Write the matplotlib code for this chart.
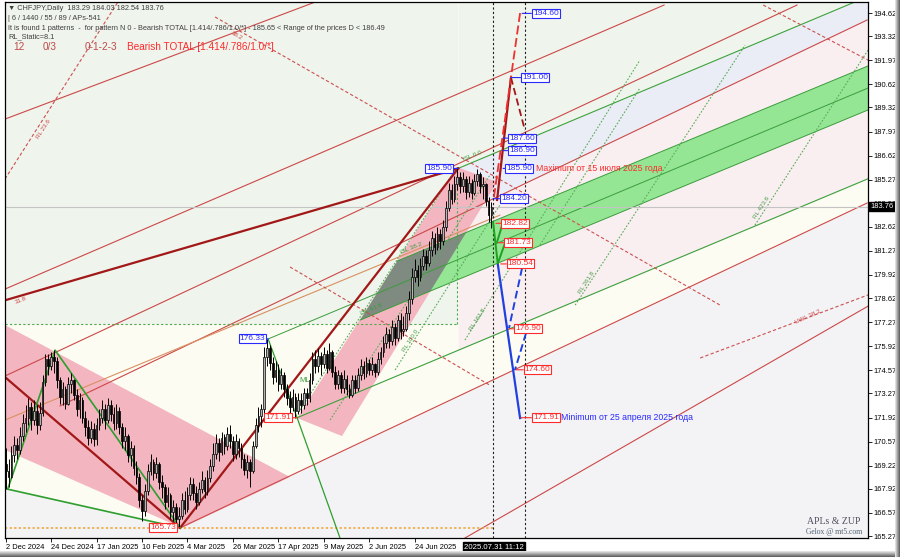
import numpy as np
import matplotlib.pyplot as plt
from matplotlib.patches import Polygon

plt.rcParams['font.family'] = ['Liberation Sans Narrow', 'Liberation Sans', 'DejaVu Sans']

# CHFJPY daily bars, 2 Dec 2024 .. 31 Jul 2025
first_open = 169.3
closes = [168.9, 168.6, 169.8, 170.4, 170.1, 170.9, 171.6, 171.9, 172.5, 171.8,
          172.3, 171.5, 172.2, 173.9, 175.2, 174.8, 175.3, 175.1, 174.0, 173.1,
          173.5, 172.7, 173.8, 174.0, 173.2, 172.4, 172.9, 171.9, 171.4, 170.8,
          171.3, 170.7, 171.5, 171.9, 172.4, 171.8, 172.6, 172.1, 171.6, 172.3,
          171.4, 170.6, 170.9, 169.8, 170.2, 169.1, 168.6, 167.3, 166.7, 167.8,
          168.9, 169.4, 168.8, 169.3, 168.3, 168.0, 167.2, 167.6, 166.6, 166.9,
          166.2, 166.4, 167.3, 166.8, 167.6, 168.2, 167.7, 167.2, 167.9, 168.4,
          167.8, 168.5, 169.2, 169.9, 170.5, 170.0, 170.8, 170.3, 171.0, 170.6,
          169.9, 170.6, 170.2, 169.6, 169.0, 169.4, 168.9, 170.3, 171.5, 172.0,
          172.4, 175.3, 175.8, 175.0, 174.2, 174.6, 173.8, 174.3, 173.5, 173.0,
          172.5, 173.1, 172.3, 172.9, 172.6, 173.3, 173.0, 174.0, 175.2, 174.8,
          175.4, 174.9, 175.5, 174.7, 175.6, 174.5, 173.8, 174.3, 173.6, 174.1,
          173.5, 173.2, 174.0, 173.6, 174.3, 174.8, 174.4, 175.0, 174.6, 174.9,
          174.5, 175.2, 175.6, 176.1, 176.6, 176.2, 177.0, 176.4, 177.4, 176.8,
          176.9, 177.8, 178.6, 179.8, 180.2, 179.8, 180.4, 181.0, 180.6, 181.3,
          182.0, 181.5, 182.2, 181.8, 182.6, 183.7, 184.7, 184.2, 185.0, 185.4,
          184.9, 185.3, 184.6, 185.1, 184.5, 185.2, 185.6, 184.9, 185.0, 184.1,
          183.29, 183.76]
highs = [170.2, 169.6, 170.3, 170.9, 170.8, 171.4, 172.1, 172.6, 173.0, 172.8,
         172.9, 172.6, 172.8, 174.3, 175.5, 175.5, 175.6, 175.7, 175.3, 174.2,
         173.9, 173.7, 174.2, 174.4, 174.1, 173.5, 173.3, 173.1, 172.3, 171.8,
         171.7, 171.6, 171.9, 172.4, 172.9, 172.7, 173.0, 172.9, 172.5, 172.7,
         172.5, 171.6, 171.4, 171.0, 170.6, 170.4, 169.5, 168.8, 167.6, 168.2,
         169.3, 169.9, 169.6, 169.7, 169.4, 168.7, 168.2, 168.0, 167.7, 167.3,
         167.1, 166.9, 167.7, 167.8, 168.0, 168.6, 168.5, 168.1, 168.3, 168.9,
         168.6, 169.0, 169.6, 170.5, 171.0, 170.8, 171.1, 171.0, 171.4, 171.5,
         170.9, 171.0, 170.8, 170.5, 169.9, 169.8, 169.6, 170.6, 171.9, 172.5,
         172.7, 175.9, 176.33, 176.0, 175.3, 175.1, 174.9, 174.7, 174.5, 173.8,
         173.4, 173.5, 173.3, 173.3, 173.3, 173.6, 173.6, 174.4, 175.6, 175.7,
         175.8, 175.6, 175.9, 175.7, 176.1, 175.7, 174.8, 174.6, 174.5, 174.6,
         174.3, 173.8, 174.3, 174.3, 174.7, 175.2, 175.1, 175.3, 175.2, 175.3,
         175.0, 175.6, 175.9, 176.5, 177.0, 176.9, 177.4, 177.2, 177.7, 177.8,
         177.6, 178.2, 179.0, 180.3, 180.8, 180.5, 180.9, 181.4, 181.3, 181.8,
         182.4, 182.3, 182.6, 182.5, 183.0, 184.1, 185.1, 185.0, 185.5, 185.90,
         185.7, 185.7, 185.5, 185.5, 185.3, 185.6, 185.85, 185.7, 185.4, 185.1,
         184.3, 184.03]
lows = [167.9, 168.0, 168.5, 169.4, 169.6, 169.9, 170.6, 171.1, 171.5, 171.2,
        171.5, 171.0, 171.2, 172.0, 173.7, 174.3, 174.6, 174.4, 173.6, 172.7,
        172.6, 172.4, 172.6, 173.3, 172.9, 172.0, 171.9, 171.6, 170.9, 170.4,
        170.5, 170.3, 170.4, 171.2, 171.6, 171.3, 171.6, 171.7, 171.2, 171.3,
        171.0, 170.2, 170.1, 169.4, 169.2, 168.7, 168.2, 166.9, 166.1, 166.4,
        167.6, 168.7, 168.4, 168.5, 167.9, 167.4, 166.8, 166.9, 166.2, 166.1,
        165.9, 165.73, 166.2, 166.5, 166.6, 167.3, 167.3, 166.8, 167.0, 167.7,
        167.4, 167.6, 168.3, 168.9, 169.6, 169.5, 169.8, 169.9, 170.1, 170.2,
        169.5, 169.6, 169.7, 169.1, 168.7, 168.5, 168.0, 168.8, 170.2, 171.1,
        171.4, 172.1, 174.8, 174.6, 173.8, 173.9, 173.4, 173.5, 173.1, 172.6,
        172.1, 172.3, 171.91, 172.1, 172.2, 172.4, 172.6, 172.8, 173.8, 174.4,
        174.5, 174.3, 174.7, 174.4, 174.6, 174.2, 173.5, 173.5, 173.3, 173.3,
        173.2, 173.0, 173.1, 173.3, 173.4, 174.0, 174.1, 174.2, 174.3, 174.3,
        174.2, 174.3, 174.9, 175.3, 175.8, 175.8, 176.0, 176.0, 176.2, 176.3,
        176.5, 176.8, 177.4, 178.3, 179.5, 179.3, 179.6, 180.2, 180.2, 180.4,
        181.0, 181.1, 181.3, 181.4, 181.6, 182.4, 183.5, 183.9, 184.0, 184.7,
        184.5, 184.6, 184.2, 184.3, 184.2, 184.4, 184.9, 184.5, 184.2, 183.8,
        182.9, 182.54]

date_labels = ["2 Dec 2024", "24 Dec 2024", "17 Jan 2025", "10 Feb 2025", "4 Mar 2025",
               "26 Mar 2025", "17 Apr 2025", "9 May 2025", "2 Jun 2025", "24 Jun 2025"]
date_bars = [0, 16, 32, 48, 64, 80, 96, 112, 128, 144]
price_ticks = [194.62, 193.32, 191.97, 190.62, 189.32, 187.97, 186.62, 185.27, 183.92,
               182.62, 181.27, 179.92, 178.62, 177.27, 175.92, 174.57, 173.27, 171.92,
               170.57, 169.22, 167.92, 166.57, 165.27]
last_price = 183.76

# pattern pivots (bar index, price)
piv_dec_low = (0.7, 167.90)
piv_dec_high = (17.4, 175.70)
piv_low = (61.4, 165.73)
piv_176 = (92.4, 176.33)
piv_171 = (102.6, 171.91)
piv_top = (159.3, 185.90)

# drawn objects (bar index, price)
line3 = [piv_top, (303.6, 195.55)]
line_mid = [piv_176, (303.6, 190.41)]
line_171 = [piv_171, (303.6, 185.32)]
red_c = [(19.1, 172.57), (303.3, 194.23)]
red_d = [piv_low, (303.3, 183.96)]
red_e = [(161.7, 165.16), (303.6, 178.17)]
red_1 = [(-0.25, 174.25), (278.6, 195.07)]
red_a = [(-0.25, 179.13), (231.8, 195.07)]
red_top = [(-0.25, 188.67), (109.0, 195.24)]
orange_1 = [(-0.25, 171.78), (174.0, 183.28)]
zig_bottom = [piv_dec_low, piv_low]
dark_red = [[(-0.25, 178.5), piv_top], [piv_low, piv_top], [(-0.25, 174.19), piv_low]]
red_dashed = [[(73.7, 194.40), (251.5, 178.23)], [(266.7, 195.07), (303.6, 191.98)],
              [(100.1, 180.37), (170.5, 173.73)], [(244.5, 175.26), (303.6, 178.80)],
              [(-0.25, 185.31), (39.5, 195.24)]]
green_dotted = [[(137.1, 174.59), (174.0, 183.85)], [(161.7, 176.27), (223.3, 191.98)],
                [(200.5, 178.23), (260.3, 192.82)], [(263.8, 182.72), (303.6, 192.54)],
                [(188.1, 181.60), (223.3, 190.41)], [(103.6, 172.34), (158.2, 185.81)],
                [(114.2, 171.78), (170.5, 185.53)]]
gband_up = [(137.8, 180.70), (303.6, 191.65)]
gband_lo = [(124.8, 177.39), (303.6, 189.18)]
pink_desc = [(-0.25, 177.11), (100.1, 168.58), (62.1, 165.72), (-0.25, 170.10)]
pink_asc = [(102.6, 171.89), (158.9, 185.98), (173.0, 185.14), (118.4, 170.88)]
box_level = 177.17
v_lines = [171.7, 182.8]

# forecast paths
up_solid = [(173.0, 184.13), (177.9, 191.00)]
up_red = [(171.9, 184.29), (181.1, 194.62)]
up_dash = [(177.9, 191.00), (182.8, 188.05)]
green_path = [[(171.6, 182.89), (173.3, 180.48)], [(174.8, 182.72), (173.0, 181.77)],
              [(175.8, 181.71), (173.3, 180.59)]]
blue_solid = [(173.3, 180.48), (181.1, 171.89)]
blue_dash = [[(181.8, 180.31), (177.2, 176.94)], [(183.2, 176.66), (179.3, 174.59)]]

blue_tags = [194.60, 191.00, 187.60, 186.90, 185.90, 184.20]
blue_tag_anchor = [181.8, 177.9, 175.1, 175.1, 175.1, 171.6]
blue_tag_box = [185.6, 181.8, 177.2, 177.2, 176.2, 174.4]
red_tags = [182.82, 181.73, 180.54, 176.90, 174.60, 171.91]
red_tag_anchor = [172.6, 173.6, 174.3, 177.2, 179.7, 181.4]
red_tag_box = [174.8, 175.8, 176.7, 179.3, 182.7, 185.6]

BLUE = '#2a2aff'
RED = '#ff2a2a'


def y_on(seg, x):
    (x0, y0), (x1, y1) = seg
    return y0 + (y1 - y0) * (np.asarray(x) - x0) / (x1 - x0)


def seg_plot(seg, **kw):
    ax.plot([seg[0][0], seg[1][0]], [seg[0][1], seg[1][1]], **kw)


fig = plt.figure(figsize=(9, 5.57), dpi=100)
fig.patch.set_facecolor('white')
ax = fig.add_axes([5 / 900, 1 - 538 / 557, 863 / 900, 536 / 557])
ax.set_xlim(-0.25, 303.6)
ax.set_ylim(165.16, 195.24)
ax.set_facecolor('#fcfcf2')

# background zones
xr = np.array([piv_top[0], 303.6])
ax.fill_between(xr, y_on(line3, xr), 197, color='#eff5ed', lw=0, zorder=0)
ax.fill_between(xr, y_on(red_c, xr), y_on(line3, xr), color='#ebedf6', lw=0, zorder=0)
ax.fill_between(xr, y_on(line_171, xr), y_on(red_c, xr), color='#f9eff1', lw=0, zorder=0)
ax.fill_between([-0.25, piv_top[0]], box_level, 197, color='#eff4ed', lw=0, zorder=0)
xg = np.array([piv_low[0], 303.6])
ax.fill_between(xg, 164, y_on(red_d, xg), color='#f3f3f5', lw=0, zorder=0)
xb = np.array([-0.25, piv_low[0]])
ax.fill_between(xb, 164, y_on(zig_bottom, xb), color='#f3f3f3', lw=0, zorder=0)

# pink channels and green band
ax.add_patch(Polygon(pink_desc, closed=True, fc='#f3b6c0', lw=0, zorder=1))
pink2 = Polygon(pink_asc, closed=True, fc='#f3b6c0', lw=0, zorder=1)
ax.add_patch(pink2)
band_pts = [gband_lo[0], gband_up[0], gband_up[1], gband_lo[1]]
ax.add_patch(Polygon(band_pts, closed=True, fc='#94e694', lw=0, zorder=1.5))
over = Polygon(band_pts, closed=True, fc='#7f8b80', lw=0, zorder=1.6)
ax.add_patch(over)
over.set_clip_path(pink2)
for s in (gband_up, gband_lo, line_mid):
    seg_plot(s, color='#3c9c3c', lw=0.7, zorder=2)

# channel lines
for s in (line3, line_171):
    seg_plot(s, color='#3ca03c', lw=0.8, zorder=2)
for s in (red_c, red_d, red_e, red_1, red_a, red_top):
    seg_plot(s, color='#cc4848', lw=0.8, zorder=2)
seg_plot(orange_1, color='#d99060', lw=0.8, zorder=2)
for s in red_dashed:
    seg_plot(s, color='#cc5050', lw=0.8, ls=(0, (3, 2)), zorder=2)
for s in green_dotted:
    seg_plot(s, color='#5aac5a', lw=0.8, ls=(0, (1.5, 1.5)), zorder=2)
for s in dark_red:
    seg_plot(s, color='#a21818', lw=1.6, zorder=2.5)

# zigzag
zx = [piv_dec_low[0], piv_dec_high[0], piv_low[0]]
zy = [piv_dec_low[1], piv_dec_high[1], piv_low[1]]
ax.plot(zx, zy, color='#2e9e2e', lw=1.2, zorder=2.6)
seg_plot(zig_bottom, color='#2e9e2e', lw=1.2, zorder=2.6)
seg_plot([piv_176, piv_171], color='#2e9e2e', lw=0.9, zorder=2.6)
seg_plot([piv_171, (117.7, 165.16)], color='#2e9e2e', lw=0.9, zorder=2.6)

# guide lines
ax.plot([-0.25, piv_top[0]], [box_level, box_level], color='#4caa4c', lw=0.8, ls=(0, (2, 2)), zorder=2)
ax.plot([158.9, 158.9], [box_level, piv_top[1]], color='#4caa4c', lw=0.8, ls=(0, (2, 2)), zorder=2)
ax.plot([-0.25, v_lines[0]], [piv_low[1], piv_low[1]], color='#f0a030', lw=1.1, ls=(0, (1.5, 1.5)), zorder=2)
ax.axhline(last_price, color='#c4c4c4', lw=0.8, zorder=2)
for v in v_lines:
    ax.axvline(v, color='#202020', lw=0.8, ls=(0, (2, 2)), zorder=4)

# candles
opens = [first_open] + closes[:-1]
idx = np.arange(len(closes))
o = np.array(opens)
c = np.array(closes)
h = np.maximum(np.array(highs), np.maximum(o, c))
lo = np.minimum(np.array(lows), np.minimum(o, c))
ax.vlines(idx, lo, h, color='black', lw=0.7, zorder=3)
up = c >= o
ax.bar(idx[up], (c - o)[up], bottom=o[up], width=0.6, color='#b4b4b4', edgecolor='black', lw=0.5, zorder=3.1)
ax.bar(idx[~up], (o - c)[~up], bottom=c[~up], width=0.6, color='black', edgecolor='black', lw=0.5, zorder=3.1)

# forecast paths
seg_plot(up_solid, color='#a21818', lw=1.6, zorder=5)
seg_plot(up_red, color='#ee3030', lw=1.3, ls=(0, (5, 2)), zorder=5)
seg_plot(up_dash, color='#a21818', lw=1.3, ls=(0, (4, 2)), zorder=5)
for s in green_path:
    seg_plot(s, color='#20a020', lw=1.4, zorder=5)
seg_plot(blue_solid, color='#2040e0', lw=1.6, zorder=5)
for s in blue_dash:
    seg_plot(s, color='#2040e0', lw=1.4, ls=(0, (4, 2)), zorder=5)


def price_tag(val, xb, xa, col, ha='left'):
    ax.annotate(f'{val:.2f}', xy=(xa, val), xytext=(xb, val), ha=ha, va='center',
                fontsize=6, color=col,
                bbox=dict(boxstyle='square,pad=0.12', fc='white', ec=col, lw=0.8),
                arrowprops=dict(arrowstyle='-', color=col, lw=0.8, shrinkA=0, shrinkB=0),
                zorder=7)


for v, xa, xb in zip(blue_tags, blue_tag_anchor, blue_tag_box):
    price_tag(v, xb, xa, BLUE)
for v, xa, xb in zip(red_tags, red_tag_anchor, red_tag_box):
    price_tag(v, xb, xa, RED)
price_tag(piv_top[1], 157.2, piv_top[0], BLUE, ha='right')
price_tag(piv_176[1], 91.4, piv_176[0], BLUE, ha='right')
price_tag(piv_171[1], 100.5, piv_171[0], RED, ha='right')
price_tag(piv_low[1], 59.9, piv_low[0], RED, ha='right')

ax.text(186.7, 185.90, 'Maximum от 15 июля 2025 года', color=RED, fontsize=6.3, va='center', zorder=7)
ax.text(195.5, 171.91, 'Minimum от 25 апреля 2025 года', color=BLUE, fontsize=6.3, va='center', zorder=7)

# small object captions
small = dict(fontsize=4.5, zorder=6)
ax.text(138.8, 181.1, 'ISL 38.2', color='#3c9c3c', rotation=22, **small)
ax.text(124.5, 177.7, 'ISL 61.8', color='#3c9c3c', rotation=22, **small)
ax.text(161.0, 186.3, 'ISL 0.0', color='#3c9c3c', rotation=22, **small)
ax.text(139.5, 175.6, 'RL 100.0', color='#4a9a4a', rotation=57, **small)
ax.text(163.0, 176.8, 'RL 161.8', color='#4a9a4a', rotation=57, **small)
ax.text(201.5, 178.9, 'RL 261.8', color='#4a9a4a', rotation=57, **small)
ax.text(263.0, 183.1, 'RL 423.6', color='#4a9a4a', rotation=57, **small)
ax.text(277.5, 177.2, 'UWL 38.2', color='#cc4848', rotation=25, **small)
ax.text(10.5, 187.6, 'RL 23.6', color='#cc4848', rotation=57, **small)
ax.text(3.0, 178.3, '31.8', color='#cc4848', rotation=22, **small)
ax.text(79.0, 193.1, '38.2', color='#cc4848', rotation=-30, **small)
ax.text(103.5, 173.9, 'ML', color='#3c9c3c', fontsize=5.5, zorder=6)

# axes
ax.yaxis.tick_right()
ax.set_yticks(price_ticks)
ax.set_yticklabels([f'{v:.2f}' for v in price_ticks])
ax.set_xticks(date_bars)
ax.set_xticklabels(date_labels, ha='left')
ax.tick_params(axis='both', labelsize=5.4, length=3, width=0.6, pad=1.2, colors='black')
for sp in ax.spines.values():
    sp.set_color('black')
    sp.set_linewidth(0.9)
ax.annotate(f'{last_price:.2f}', xy=(1.003, last_price), xycoords=('axes fraction', 'data'),
            ha='left', va='center', fontsize=5.4, color='white',
            bbox=dict(boxstyle='square,pad=0.18', fc='black', ec='black'), annotation_clip=False)
ax.annotate('2025.07.31 11:12', xy=(161.4, 0), xycoords=('data', 'axes fraction'),
            xytext=(0, -4), textcoords='offset points', ha='left', va='top', fontsize=5.6,
            color='white', bbox=dict(boxstyle='square,pad=0.15', fc='black', ec='black'),
            annotation_clip=False)


def fpos(x, y):
    return x / 900, 1 - y / 557


hdr = dict(fontsize=5.3, color='#404040', va='center')
fig.text(*fpos(8, 9), '\u25bc CHFJPY,Daily  183.29 184.03 182.54 183.76', **hdr)
fig.text(*fpos(8, 19), '| 6 / 1440 / 55 / 89 / APs-541', **hdr)
fig.text(*fpos(8, 29), 'It is found 1 patterns  -  for pattern N 0 - Bearish TOTAL [1.414/.786/1.0/*] '
         '- 185.65 < Range of the prices D < 186.49', **hdr)
fig.text(*fpos(8, 37), 'RL_Static=8.1', **hdr)
big = dict(fontsize=7.2, va='center')
fig.text(*fpos(13, 47), '12', color='#c04848', **big)
fig.text(*fpos(43, 47), '0/3', color='#c04848', **big)
fig.text(*fpos(85, 47), '0-1-2-3', color='#c04848', **big)
fig.text(*fpos(127, 47), 'Bearish TOTAL [1.414/.786/1.0/*]', color='#ff2a2a', **big)

fig.text(*fpos(834, 521), 'APLs & ZUP', family='Liberation Serif', fontsize=7, color='#505060',
         ha='center', va='center')
fig.text(*fpos(834, 532), 'Gelox @ mt5.com', family='Liberation Serif', fontsize=5.5, color='#506070',
         ha='center', va='center')

# window frame shading
grad = np.linspace(0.93, 0.35, 50).reshape(-1, 1)
fb = fig.add_axes([0, 0, 1, 6 / 557])
fb.imshow(grad, cmap='gray', vmin=0, vmax=1, aspect='auto')
fb.axis('off')
fr = fig.add_axes([895 / 900, 0, 5 / 900, 1])
fr.imshow(grad.T, cmap='gray', vmin=0, vmax=1, aspect='auto')
fr.axis('off')

fig.savefig('out.png', dpi=100, facecolor=fig.get_facecolor())
